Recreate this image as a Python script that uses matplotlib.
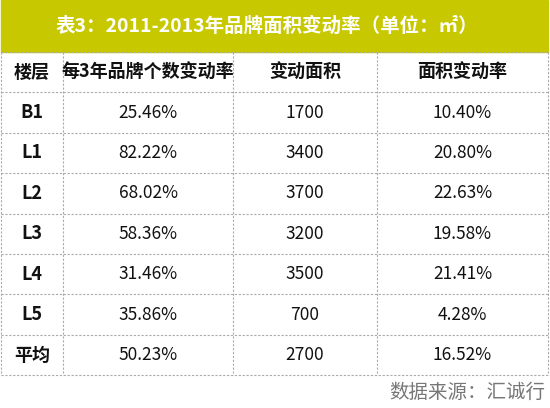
import matplotlib
matplotlib.use("Agg")
import matplotlib.pyplot as plt
from matplotlib.patches import Rectangle

plt.rcParams['font.family'] = ['Noto Sans CJK SC', 'DejaVu Sans']

title = "表3：2011-2013年品牌面积变动率（单位：㎡）"
headers = ["楼层", "每3年品牌个数变动率", "变动面积", "面积变动率"]
floors = ["B1", "L1", "L2", "L3", "L4", "L5", "平均"]
brand_rate = ["25.46%", "82.22%", "68.02%", "58.36%", "31.46%", "35.86%", "50.23%"]
area_change = ["1700", "3400", "3700", "3200", "3500", "700", "2700"]
area_rate = ["10.40%", "20.80%", "22.63%", "19.58%", "21.41%", "4.28%", "16.52%"]
source = "数据来源：汇诚行"

W, H = 550, 408
fig = plt.figure(figsize=(W/100, H/100), dpi=100)
ax = fig.add_axes([0, 0, 1, 1])
ax.set_xlim(0, W); ax.set_ylim(H, 0); ax.axis('off')

colx = [1, 63, 233, 377, 548]
top, rh = 52, 40.4
ax.add_patch(Rectangle((1, 0), 547, top, color='#c8c800', zorder=0))
ax.text(W/2 - 8, 26, title, ha='center', va='center', color='white', fontsize=14, fontweight='bold')

rows = [headers] + [[f, b, a, r] for f, b, a, r in zip(floors, brand_rate, area_change, area_rate)]
nrows = len(rows)
for i, row in enumerate(rows):
    yc = top + rh*(i+0.5)
    for j, val in enumerate(row):
        xc = (colx[j]+colx[j+1])/2
        bold = (i == 0) or (j == 0)
        ax.text(xc, yc, val, ha='center', va='center', fontsize=13 if bold else 12.5,
                fontweight='bold' if bold else 'normal', color='#111111')
bottom = top + rh*nrows
for i in range(nrows+1):
    y = top + rh*i
    ax.plot([1, 548], [y, y], color='#aaaaaa', lw=0.8, ls=(0, (2, 1.5)))
for x in colx:
    ax.plot([x, x], [top, bottom], color='#aaaaaa', lw=0.8, ls=(0, (2, 1.5)))
ax.text(545, 392, source, ha='right', va='center', fontsize=14, color='#777777')

fig.savefig("out.png", dpi=100)
